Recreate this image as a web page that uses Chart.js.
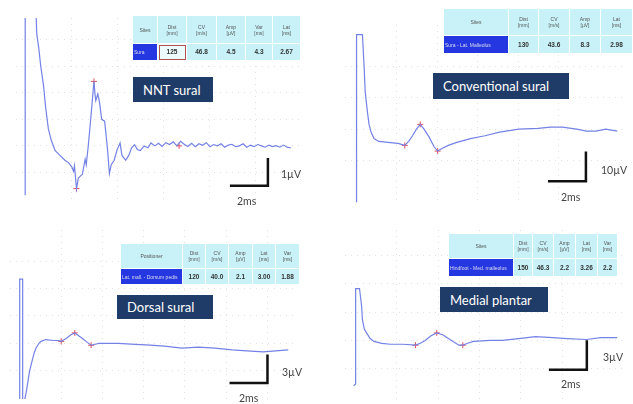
<!DOCTYPE html>
<html>
<head>
<meta charset="utf-8">
<script src="https://cdn.jsdelivr.net/npm/chart.js@4"></script>
<style>
  body { margin: 0; background: #fff; }
  #wrap { position: relative; width: 633px; height: 404px; overflow: hidden; background: #fff; font-family: Lato, 'Open Sans', sans-serif; }
  canvas { position: absolute; }
  .tbl { position: absolute; border-collapse: collapse; font-family: 'Liberation Sans', Arial, sans-serif; font-size: 5px; color: #555; }
  .tbl td { background: #c8f2f8; border: 1px solid #fff; text-align: center; padding: 0; line-height: 6px; }
  .tbl tr.val td { font-size: 6.5px; color: #333; font-weight: bold; }
  .tbl tr.val td.site { background: #2437e0; color: #dde; font-weight: normal; font-size: 5px; text-align: left; padding-left: 1px; }
  .tbl tr.val td.boxed { background: #eefbfc; outline: 1px solid #b05050; outline-offset: -2px; }
  .title { position: absolute; background: #1f3c68; color: #fff; font-size: 13px; box-sizing: border-box; padding-left: 10px; display: flex; align-items: center; }
  .lbl { position: absolute; font-size: 10.5px; color: #444; white-space: nowrap; }
</style>
</head>
<body>
<div id="wrap"></div>
<script>
// ---- NNT sural (ms / uV)
var nntT = [0, 0, 0.58, 0.63, 0.74, 0.84, 1.0, 1.11, 1.26, 1.42, 1.63, 1.89, 2.16, 2.37, 2.53, 2.63, 2.68, 2.79, 2.89, 3.0, 3.11, 3.26, 3.32, 3.42, 3.53, 3.63, 3.74, 3.79, 3.84, 3.95, 4.05, 4.16, 4.32, 4.47, 4.58, 4.68, 4.84, 5.0, 5.16, 5.26, 5.47, 5.63, 5.79, 5.95, 6.1, 6.26, 6.47, 6.68, 6.84, 7.05, 7.25, 7.45, 7.65, 7.85, 8.05, 8.25, 8.45, 8.65, 8.85, 9.05, 9.25, 9.45, 9.65, 9.85, 10.05, 10.25, 10.45, 10.65, 10.85, 11.05, 11.25, 11.45, 11.65, 11.85, 12.05, 12.25, 12.45, 12.65, 12.85, 13.05, 13.25, 13.45, 13.65, 13.85, 14.05, 14.25, 14.45];
var nntV = [-1.86, 5.2, 5.2, 4.21, 3.68, 3.04, 2.25, 1.46, 0.64, 0.21, -0.18, -0.36, -0.54, -0.64, -0.79, -0.96, -0.75, -1.61, -1.21, -1.14, -1.07, -0.5, -0.71, -0.07, 0.75, 1.54, 2.43, 2.0, 1.71, 1.96, 1.61, 1.0, 0.93, -0.07, -1.04, -0.71, -0.54, -0.14, 0.11, -0.36, -0.54, -0.36, -0.07, 0.04, -0.14, -0.18, 0.0, -0.07, 0.11, 0.0, 0.1, -0.02, 0.12, 0.05, 0.15, 0.0, 0.17, 0.06, -0.02, 0.1, -0.03, 0.08, 0.02, 0.12, -0.03, 0.05, 0.0, 0.08, -0.05, 0.03, 0.06, -0.03, 0.0, 0.08, -0.05, 0.03, -0.03, 0.05, 0.0, -0.05, 0.03, -0.03, 0.01, -0.05, 0.03, -0.05, -0.08];
var nntMarkT = [2.79, 3.74, 8.37];
var nntMarkV = [-1.61, 2.43, 0.0];
var nntBarT = [11.2, 13.2, 13.2];
var nntBarV = [-1.5, -1.5, -0.5];

// ---- Conventional sural
var convT = [0, 0, 0.32, 0.42, 0.47, 0.58, 0.68, 0.79, 0.95, 1.21, 1.84, 2.26, 2.63, 2.84, 3.05, 3.26, 3.47, 3.68, 3.95, 4.21, 4.42, 4.68, 5.0, 5.42, 6.21, 7.0, 7.79, 8.84, 9.89, 10.58, 11.21, 12.0, 12.53, 13.05, 13.58, 14.21];
var convV = [-25.7, 33.3, 33.3, 21, 13.3, 6.7, 1.7, -1, -3.3, -4.3, -4.7, -5, -5.7, -4.3, -2.3, 0, 1.7, 0, -2.7, -6, -7.7, -6.7, -5.7, -4.7, -3.3, -2.3, -1, 0, 0.3, 0.7, 0.7, 0, -0.7, -0.7, 0, -0.7];
var convMarkT = [2.63, 3.47, 4.42];
var convMarkV = [-5.7, 1.7, -7.7];
var convBarT = [10.5, 12.5, 12.5];
var convBarV = [-18.3, -18.3, -8.3];

// ---- Dorsal sural
var dorsT = [0, 0, 0.16, 0.16, 0.26, 0.37, 0.53, 0.63, 0.79, 0.89, 1.05, 1.16, 1.42, 1.84, 2.11, 2.26, 2.53, 2.79, 3.0, 3.21, 3.42, 3.68, 3.89, 4.11, 4.32, 4.74, 5.37, 6.05, 7.11, 7.89, 8.84, 9.74, 10.63, 11.58, 12.37, 13.26, 13.95, 14.63];
var dorsV = [-6.3, 7.03, 7.03, -6.3, -6.3, -5.17, -3.1, -2.28, -1.03, -0.52, 0, 0.21, 0.41, 0.31, 0.31, 0.21, 0.52, 0.93, 1.14, 0.83, 0.52, 0.1, -0.21, -0.1, 0, 0, 0, -0.1, -0.21, -0.31, -0.52, -0.41, -0.52, -0.72, -0.83, -0.93, -0.83, -0.72];
var dorsMarkT = [2.26, 3.0, 3.89];
var dorsMarkV = [0.21, 1.14, -0.21];
var dorsBarT = [11.5, 13.5, 13.5];
var dorsBarV = [-4.35, -4.35, -1.35];

// ---- Medial plantar
var medT = [-0.11, 0, 0, 0.21, 0.32, 0.37, 0.47, 0.63, 0.79, 1.0, 1.42, 1.89, 2.58, 3.26, 3.53, 3.79, 4.11, 4.42, 4.74, 5.05, 5.37, 5.63, 5.84, 6.11, 6.42, 7.32, 8.0, 8.89, 9.79, 10.74, 11.53, 12.58, 13.37, 14.26];
var medV = [-4.8, -4.6, 5.5, 5.5, 3.7, 2.2, 1.2, 0.7, 0.2, -0.1, -0.3, -0.4, -0.4, -0.5, -0.3, 0, 0.5, 0.8, 0.6, 0.2, -0.2, -0.5, -0.5, -0.3, -0.1, 0, 0, 0.2, 0.4, 0.3, 0.2, 0.1, 0.3, 0.3];
var medMarkT = [3.26, 4.42, 5.84];
var medMarkV = [-0.5, 0.8, -0.5];
var medBarT = [10.6, 12.6, 12.6];
var medBarV = [-3.1, -3.1, -0.1];

// ---- tables
var nntHead = ['Sites', 'Dist<br>[mm]', 'CV<br>[m/s]', 'Amp<br>[µV]', 'Var<br>[ms]', 'Lat<br>[ms]'];
var nntRow = ['Sura', '125', '46.8', '4.5', '4.3', '2.67'];
var convHead = ['Sites', 'Dist<br>[mm]', 'CV<br>[m/s]', 'Amp<br>[µV]', 'Lat<br>[ms]'];
var convRow = ['Sura - Lat. Malleolus', '130', '43.6', '8.3', '2.98'];
var dorsHead = ['Positioner', 'Dist<br>[mm]', 'CV<br>[m/s]', 'Amp<br>[µV]', 'Lat<br>[ms]', 'Var<br>[ms]'];
var dorsRow = ['Lat. mall. - Dorsum pedis', '120', '40.0', '2.1', '3.00', '1.88'];
var medHead = ['Sites', 'Dist<br>[mm]', 'CV<br>[m/s]', 'Amp<br>[µV]', 'Lat<br>[ms]', 'Var<br>[ms]'];
var medRow = ['Hindfoot - Med. malleolus', '150', '46.3', '2.2', '3.26', '2.2'];

var wrap = document.getElementById('wrap');

function pts(t, v) {
    return t.map(function(x, i) { return { x: x, y: v[i] }; });
}

function panel(box, xr, yr, xs, ys, t, v, mt, mv, bt, bv) {
    var c = document.createElement('canvas');
    c.width = box[2];
    c.height = box[3];
    c.style.left = box[0] + 'px';
    c.style.top = box[1] + 'px';
    wrap.appendChild(c);
    var axis = function(r, s) {
        return {
            type: 'linear', min: r[0], max: r[1],
            ticks: { display: false, stepSize: s },
            grid: { color: 'rgba(150,150,150,0.28)', drawTicks: false },
            border: { display: false, dash: [1, 5] },
            // keep only the inner dotted lines
            afterBuildTicks: function(scale) {
                scale.ticks = scale.ticks.filter(function(k) { return k.value > r[0] + 0.01 && k.value < r[1] - 0.01; });
            }
        };
    };
    new Chart(c, {
        type: 'scatter',
        data: {
            datasets: [{
                data: pts(t, v), showLine: true, borderColor: '#7482e6', borderWidth: 1.2,
                pointRadius: 0, tension: 0
            }, {
                data: pts(mt, mv), showLine: false, pointStyle: 'cross', pointRadius: 3,
                borderColor: '#e0505a', borderWidth: 1
            }, {
                data: pts(bt, bv), showLine: true, borderColor: '#111', borderWidth: 2.5,
                pointRadius: 0, borderCapStyle: 'square'
            }]
        },
        options: {
            responsive: false, animation: false,
            layout: { padding: 0 },
            plugins: { legend: { display: false }, tooltip: { enabled: false } },
            scales: { x: axis(xr, xs), y: axis(yr, ys) }
        }
    });
}

function table(pos, widths, hh, rh, head, row, boxed) {
    var tb = document.createElement('table');
    tb.className = 'tbl';
    tb.style.left = pos[0] + 'px';
    tb.style.top = pos[1] + 'px';
    var h = '<tr style="height:' + hh + 'px">';
    head.forEach(function(s, i) { h += '<td style="width:' + widths[i] + 'px">' + s + '</td>'; });
    h += '</tr><tr class="val" style="height:' + rh + 'px">';
    row.forEach(function(s, i) {
        var cls = i === 0 ? 'site' : (boxed && i === 1 ? 'boxed' : '');
        h += '<td class="' + cls + '">' + s + '</td>';
    });
    tb.innerHTML = h + '</tr>';
    wrap.appendChild(tb);
}

function title(r, txt) {
    var d = document.createElement('div');
    d.className = 'title';
    d.style.cssText = 'left:' + r[0] + 'px;top:' + r[1] + 'px;width:' + r[2] + 'px;height:' + r[3] + 'px';
    d.textContent = txt;
    wrap.appendChild(d);
}

function label(x, y, txt) {
    var d = document.createElement('div');
    d.className = 'lbl';
    d.style.left = x + 'px';
    d.style.top = y + 'px';
    d.textContent = txt;
    wrap.appendChild(d);
}

panel([11, 13, 295, 192], [-0.5, 15], [-2.04, 4.82], 2.5, 1, nntT, nntV, nntMarkT, nntMarkV, nntBarT, nntBarV);
panel([340, 20, 290, 190], [-0.63, 14.63], [-26.67, 36.67], 2.2, 11, convT, convV, convMarkT, convMarkV, convBarT, convBarV);
panel([5, 225, 295, 179], [-0.53, 15], [-6.1, 12.41], 2.25, 3, dorsT, dorsV, dorsMarkT, dorsMarkV, dorsBarT, dorsBarV);
panel([340, 225, 290, 179], [-0.58, 14.68], [-6.2, 11.7], 2.25, 3, medT, medV, medMarkT, medMarkV, medBarT, medBarV);

table([132, 15], [24, 28, 29, 28, 26, 27], 28, 17, nntHead, nntRow, true);
table([443, 8], [64, 29, 30, 30, 31], 27, 18, convHead, convRow, false);
table([120, 243], [61, 22, 22, 23, 22, 23], 25, 16, dorsHead, dorsRow, false);
table([448, 233], [64, 18, 20, 21, 21, 19], 25, 18, medHead, medRow, false);

title([133, 77, 80, 25], 'NNT sural');
title([433, 73, 136, 26], 'Conventional sural');
title([117, 295, 96, 24], 'Dorsal sural');
title([440, 287, 108, 25], 'Medial plantar');

label(281, 168, '1µV');
label(237, 195, '2ms');
label(601, 164, '10µV');
label(561, 191, '2ms');
label(282, 366, '3µV');
label(239, 392, '2ms');
label(603, 351, '3µV');
label(561, 378, '2ms');
</script>
</body>
</html>
